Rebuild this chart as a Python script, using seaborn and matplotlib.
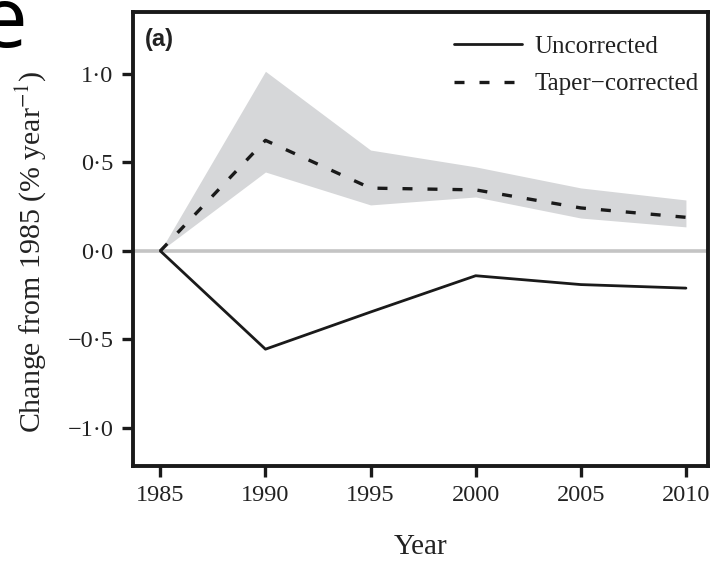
import matplotlib
matplotlib.use("Agg")
import matplotlib.pyplot as plt
import seaborn as sns
import pandas as pd
import numpy as np

years = [1985, 1990, 1995, 2000, 2005, 2010]
uncorrected = [0.0, -0.555, -0.345, -0.14, -0.19, -0.21]
taper_corrected = [0.0, 0.625, 0.355, 0.345, 0.243, 0.19]
band_upper = [0.0, 1.015, 0.57, 0.475, 0.356, 0.288]
band_lower = [0.0, 0.446, 0.26, 0.305, 0.186, 0.136]
ytick_vals = [-1.0, -0.5, 0.0, 0.5, 1.0]
ytick_labels = ["\u22121\u00b70", "\u22120\u00b75", "0\u00b70", "0\u00b75", "1\u00b70"]

sns.set_theme(style="white")
plt.rcParams['font.family'] = ['Liberation Serif', 'DejaVu Serif']
plt.rcParams['mathtext.fontset'] = 'stix'

fig = plt.figure(figsize=(7.17, 5.62), dpi=100)
ax = fig.add_axes([133/717, 1 - 466/562, (708 - 133)/717, (466 - 12)/562])

df = pd.DataFrame({"Year": years, "unc": uncorrected, "tap": taper_corrected})

ax.fill_between(years, band_lower, band_upper, color="#d6d7d9", lw=0, zorder=1)
ax.axhline(0, color="#c4c4c4", lw=2.6, zorder=2)
sns.lineplot(data=df, x="Year", y="unc", ax=ax, color="#1a1a1a", lw=2.0,
             label="Uncorrected", zorder=3)
sns.lineplot(data=df, x="Year", y="tap", ax=ax, color="#1a1a1a", lw=2.4,
             label="Taper\u2212corrected", zorder=3, dashes=False)
ax.lines[-1].set_dashes((3.0, 4.5))

ax.set_xlim(1983.7, 2011.05)
ax.set_ylim(-1.215, 1.35)
ax.set_xticks(years)
ax.set_xticklabels([str(y) for y in years])
ax.set_yticks(ytick_vals)
ax.set_yticklabels(ytick_labels)

for s in ax.spines.values():
    s.set_linewidth(2.8)
    s.set_color("#1a1a1a")
ax.tick_params(axis="both", direction="out", length=8, width=2.4, color="#1a1a1a",
               labelsize=17.5, labelcolor="#222222", pad=6, left=True, bottom=True)

ax.set_xlabel("Year", fontsize=21, color="#222222", labelpad=20)
ax.set_ylabel("Change from 1985 (% year$^{\u22121}$)", fontsize=21.5, color="#222222")
ax.yaxis.set_label_coords(-0.147, 0.472)

leg = ax.legend(loc="upper right", frameon=False, fontsize=18, handlelength=2.7,
                borderaxespad=0.35, labelspacing=0.6, handletextpad=0.5,
                bbox_to_anchor=(1.016, 0.99))
for t in leg.get_texts():
    t.set_color("#222222")

ax.text(0.02, 0.965, "(a)", transform=ax.transAxes, ha="left", va="top",
        fontsize=17, fontweight="bold", family=["Liberation Sans", "DejaVu Sans"],
        color="#222222")

fig.text(-0.029, 1 - 47/562, "e", ha="left", va="baseline", fontsize=61,
         family=["Open Sans", "DejaVu Sans"], color="black")

fig.savefig("out.png", dpi=100)
